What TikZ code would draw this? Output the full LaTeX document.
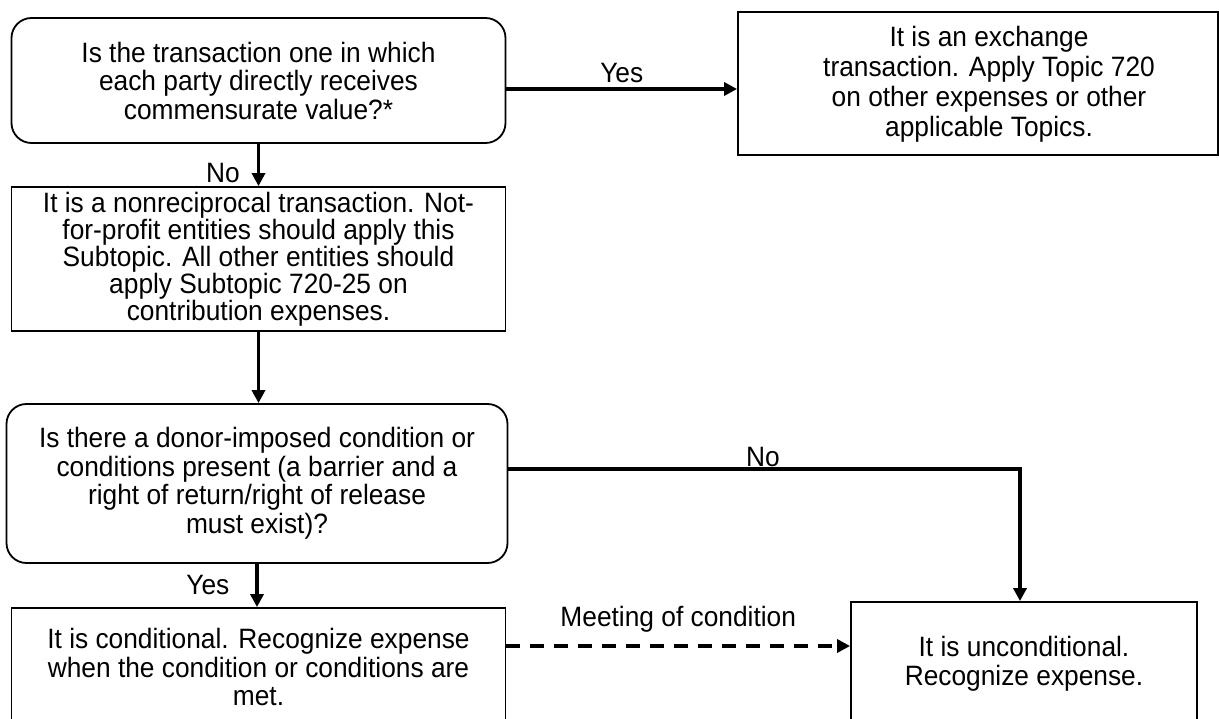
\documentclass[tikz,border=0pt]{standalone}
\usepackage{fontspec}
\setmainfont{Liberation Sans}[FakeStretch=0.94]
\usetikzlibrary{arrows.meta}
\begin{document}
\begin{tikzpicture}[x=1pt,y=-1pt,
  box/.style={draw, line width=1.8pt, align=center, inner sep=0pt,
    font=\fontsize{28}{28.5}\selectfont},
  rbox/.style={box, rounded corners=20pt},
  arr/.style={line width=3.4pt, -{Triangle[length=13pt,width=13pt]}},
  lbl/.style={font=\fontsize{28}{28}\selectfont, inner sep=0pt}]
\useasboundingbox (0,0) rectangle (1219,719);
\node[rbox, minimum width=494pt, minimum height=125pt] (A) at (258.5,80.5)
  {Is the transaction one in which\\each party directly receives\\commensurate value?*};
\node[box, minimum width=480pt, minimum height=143pt] (B) at (978,83.5) {};
\node[lbl, align=center, font=\fontsize{28}{30}\selectfont] (Bt) at (989,84)
  {It is an exchange\\transaction. Apply Topic 720\\on other expenses or other\\applicable Topics.};
\node[box, minimum width=494pt, minimum height=144pt, font=\fontsize{28}{27}\selectfont] (C) at (258.5,259)
  {It is a nonreciprocal transaction. Not-\\for-profit entities should apply this\\Subtopic. All other entities should\\apply Subtopic 720-25 on\\contribution expenses.};
\node[rbox, minimum width=501pt, minimum height=159pt] (D) at (257,483.5)
  {Is there a donor-imposed condition or\\conditions present (a barrier and a\\right of return/right of release\\must exist)?};
\node[box, minimum width=494pt, minimum height=118pt] (E) at (258.5,667)
  {It is conditional. Recognize expense\\when the condition or conditions are\\met.};
\node[box, minimum width=346pt, minimum height=124pt] (F) at (1024,664)
  {It is unconditional.\\Recognize expense.};
\coordinate (yA) at (0,89);
\coordinate (kD) at (1020,469);
\coordinate (yE) at (0,646);
\draw[arr] (A.east |- yA) -- (B.west |- yA) node[lbl, midway, above=5pt] {Yes};
\draw[arr] (A.south) -- (A.south |- C.north) node[lbl, pos=0.68, left=17pt] {No};
\draw[arr] (C.south) -- (C.south |- D.north);
\draw[arr] (D.east |- kD) -- (kD) -- (kD |- F.north);
\node[lbl, anchor=south] (noD) at (763,467) {No};
\draw[arr] (D.south) -- (D.south |- E.north) node[lbl, pos=0.5, left=26pt] {Yes};
\draw[arr, dash pattern=on 14pt off 10pt] (E.east |- yE) -- (F.west |- yE)
  node[lbl, midway, above=12pt] {Meeting of condition};
\end{tikzpicture}
\end{document}
